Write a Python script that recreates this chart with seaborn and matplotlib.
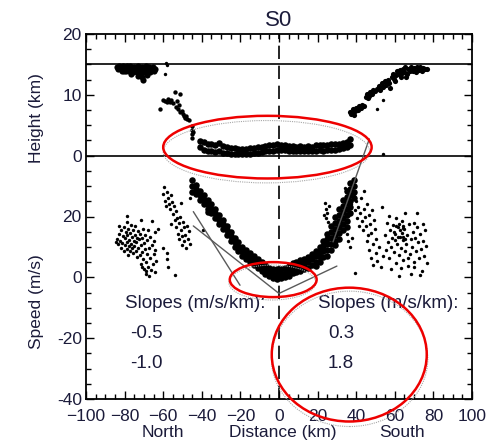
import matplotlib
matplotlib.use("Agg")
import matplotlib.pyplot as plt
from matplotlib.patches import Ellipse
from matplotlib.ticker import MultipleLocator
import pandas as pd
import seaborn as sns

# ---------------- data ----------------
# Cloud heights: (distance km, height km)
h_north = [(-84, 14.6), (-83.5, 14.2), (-83, 14.8), (-82, 14.5), (-81.5, 14.0), (-81, 14.7),
           (-80, 14.3), (-79.5, 13.9), (-79, 14.8), (-78, 14.4), (-77.5, 14.0), (-77, 14.7),
           (-76, 14.2), (-75.5, 13.8), (-75, 14.6), (-74, 14.3), (-73.5, 13.7), (-73, 14.8),
           (-72, 14.1), (-71.5, 13.6), (-71, 14.5), (-70, 14.2), (-69.5, 13.8), (-69, 14.7),
           (-68, 14.0), (-67.5, 14.5), (-67, 13.7), (-66, 14.3), (-65.5, 14.6), (-65, 13.9),
           (-64.5, 14.2), (-73, 13.1), (-71, 12.9), (-70.5, 12.5), (-72.5, 13.3), (-80.5, 14.0),
           (-76.5, 13.5), (-68.5, 13.3)]
h_left = [(-61.7, 7.7), (-60, 9.2), (-59, 9.0), (-58.2, 8.8), (-57.5, 9.3), (-56.5, 8.9),
          (-55.8, 9.1), (-55, 8.6), (-54, 10.4), (-53, 9.0), (-52, 8.4), (-51.3, 10.1),
          (-53.5, 8.0), (-52.5, 7.6), (-51.5, 7.2), (-50.5, 7.4), (-50, 6.9), (-49.3, 6.6),
          (-48.7, 6.2), (-48, 6.5), (-47.5, 6.0), (-46.8, 5.8), (-45.2, 4.9), (-45, 4.2),
          (-45.3, 3.5), (-45.1, 2.9), (-44.5, 3.9)]
h_right = [(37, 7.2), (37.5, 6.8), (38, 7.0), (38.5, 7.6), (39, 6.7), (39.5, 7.3), (40, 7.9),
           (41, 7.5), (41.5, 8.2), (42.5, 7.8), (43, 8.4), (44, 8.2), (45, 9.6), (45.5, 10.2),
           (46, 9.4), (46.5, 9.8), (47, 10.5), (48, 10.1), (48.5, 10.8), (49.5, 10.6),
           (51, 11.0), (52, 11.5), (52.5, 10.8), (53.5, 11.9), (54, 11.3), (55, 12.2),
           (55.5, 11.6), (56.5, 12.5), (57, 12.0), (57.5, 11.2), (58.5, 12.9), (59, 13.5),
           (59.5, 12.6), (60.5, 13.2), (61, 13.9), (62, 13.4), (62.5, 14.1), (63.5, 13.6),
           (64, 14.3), (65, 13.8), (65.5, 14.5), (66.5, 13.5), (67, 14.2), (68, 13.9),
           (68.5, 14.6), (69.5, 14.0), (70, 14.4), (71, 13.8), (71.5, 14.5), (72.5, 14.1),
           (73, 14.6), (74, 14.0), (74.5, 14.4), (75.5, 14.2), (76.5, 14.3), (60, 12.3),
           (63, 12.9), (66, 13.0)]
h_outliers = [(-58.2, 14.9), (-59, 13.4), (-58.5, 15.3), (53.8, 9.2), (51, 7.7), (54, 0.3)]

# Low-level cloud band: distance km -> (upper, lower) height km
hband_x = [-41, -39, -37, -35, -33, -31, -29, -27, -25, -23, -21, -19, -17, -15, -13, -11, -9,
           -7, -5, -3, -1, 1, 3, 5, 7, 9, 11, 13, 15, 17, 19, 21, 23, 25, 27, 29, 31, 33, 35, 37]
hband_h = [(2.4, 1.4), (2.2, 1.0), (2.0, 0.8), (1.9, 0.7), (1.8, 0.6), (2.1, 0.8), (1.6, 0.5),
           (1.4, 0.4), (1.3, 0.3), (1.2, 0.2), (1.1, 0.2), (1.1, 0.2), (1.1, 0.3), (1.2, 0.3),
           (1.3, 0.4), (1.4, 0.5), (1.5, 0.6), (1.6, 0.7), (1.7, 0.8), (1.7, 0.8), (1.9, 1.0),
           (1.8, 1.0), (1.7, 0.9), (1.6, 0.8), (1.6, 0.8), (1.5, 0.7), (1.6, 0.8), (1.5, 0.7),
           (1.6, 0.7), (1.5, 0.7), (1.7, 0.8), (1.8, 0.9), (1.7, 0.8), (1.8, 0.9), (1.9, 1.0),
           (1.9, 1.0), (2.0, 1.1), (2.1, 1.2), (2.3, 1.4), (2.7, 1.8)]

# Wind speed: (distance km, speed m/s)
v_north = [(-84, 12.5), (-83.5, 10.8), (-83, 14.2), (-82.5, 12.0), (-82, 9.5), (-82, 15.5),
           (-81.5, 11.3), (-81, 13.6), (-80.5, 8.6), (-80.5, 16.4), (-80, 10.5), (-80, 12.8),
           (-79.5, 14.8), (-79, 9.2), (-79, 18.2), (-78.5, 11.6), (-78.5, 13.9), (-78, 7.5),
           (-78, 16.0), (-77.5, 10.2), (-77.5, 12.4), (-77, 14.7), (-77, 8.8), (-76.5, 17.2),
           (-76.5, 11.0), (-76, 13.3), (-76, 9.6), (-75.5, 15.4), (-75.5, 7.9), (-75, 12.0),
           (-75, 10.3), (-74.5, 14.0), (-74.5, 16.8), (-74, 8.6), (-74, 11.5), (-73.5, 13.0),
           (-73.5, 6.8), (-73, 15.2), (-73, 9.8), (-72.5, 12.5), (-72, 7.4), (-72, 14.3),
           (-71.5, 10.7), (-71.5, 4.5), (-71, 12.9), (-71, 8.2), (-70.5, 6.0), (-70.5, 16.0),
           (-70, 11.3), (-70, 2.8), (-69.5, 9.2), (-69.5, 14.0), (-69, 5.0), (-69, 1.2),
           (-68.5, 12.2), (-68.5, 7.6), (-68, 3.5), (-68, 15.7), (-67.5, 9.8), (-67.5, 0.5),
           (-67, 6.3), (-67, 13.4), (-66.5, 2.4), (-66, 10.6), (-66, 18.5), (-65.5, 4.4),
           (-65, 7.8), (-65, 12.0), (-64.5, 1.6), (-64, 9.0), (-63.5, 5.5), (-78.9, 20.3),
           (-84.5, 11.5), (-82.8, 17.0), (-70.8, 3.5), (-68.8, 2.0), (-64.2, 14.8), (-71.3, 18.9)]
v_mid = [(-62.7, 16.0), (-60, 9.8), (-58, 8.0), (-58, 6.0), (-57.5, 3.3), (-60.2, 27.5),
         (-59.5, 29.8), (-59, 25.0), (-58.6, 23.3), (-58, 28.0), (-57.5, 26.0), (-57, 24.2),
         (-56.6, 22.4), (-56, 27.0), (-55.5, 24.8), (-55, 20.8), (-54.6, 23.5), (-54, 18.9),
         (-53.5, 21.8), (-53.2, 16.5), (-52.8, 19.6), (-52.3, 14.2), (-52, 17.8), (-51.6, 12.5),
         (-51.2, 20.0), (-50.8, 15.6), (-50.4, 10.5), (-50.2, 13.6), (-49.8, 18.2), (-49.4, 11.9),
         (-49, 16.4), (-48.5, 14.0), (-48.2, 9.8), (-47.7, 17.0), (-47.2, 12.6), (-46.6, 15.2),
         (-46.2, 10.8), (-53.9, 0.7), (-46, 26.0), (-39.4, 15.4), (-55.8, 17.6), (-51, 24.6)]
v_right = [(24, 24.5), (24.5, 22.5), (25, 21), (24.2, 19.5), (25.5, 18.3), (26, 23.5),
           (23.5, 20.5), (35, 14.4), (36, 12), (37, 10), (38, 13), (36.5, 26.5), (37.5, 24),
           (39, 27.5), (39.5, 22), (40, 25), (40.5, 19.5), (41, 23), (41.5, 17), (42, 21),
           (42.5, 26), (43, 18.5), (43.5, 15.5), (44, 22.5), (44.5, 19.8), (45, 16.8), (45.5, 24),
           (46, 13.8), (46.5, 20.5), (47, 17.5), (47.5, 14.5), (48, 22), (48.5, 11), (49, 18.8),
           (49.5, 15.8), (50, 12.6), (45.6, 12), (46.5, 9), (47.5, 6.5), (48.5, 4), (50, 8),
           (51, 5.5), (52, 10), (53, 3.3), (53.8, 7), (34.2, 29.5), (39.3, 1.3), (44, 28.5)]
v_south = [(53.2, 23), (65.2, 21), (71.3, 21), (55, 14), (55.5, 9), (56, 18), (56.5, 11.5),
           (57, 6.5), (57.5, 15.5), (58, 2.8), (58.5, 12.8), (59, 17.2), (59.5, 8.4), (60, 14.2),
           (60.5, 4.8), (61, 11), (61.5, 16.4), (62, 7.2), (62.5, 13.4), (63, 9.8), (63.5, 18.6),
           (64, 5.6), (64.5, 12.2), (65, 15.8), (65.5, 8.6), (66, 10.8), (66.5, 14), (67, 3.8),
           (67.5, 17.4), (68, 7.8), (68.5, 12.6), (69, 10), (69.5, 15), (70, 5.2), (70.5, 13),
           (71, 8.8), (71.5, 16.6), (72, 11.6), (72.5, 6.4), (73, 14.4), (73.5, 9.4), (74, 2.2),
           (74.5, 12), (75, 7), (75.5, 15.6), (76, 10.4), (76.5, 4.6), (62.2, 0.5), (68.3, 1.2),
           (72.8, 0.8), (60.8, 19.4), (58, 10), (64, 16.8), (66.8, 6.2), (70.2, 18), (74.8, 17.5),
           (57.2, 20.2), (63.3, 3), (69.7, 3.4), (59.5, 15), (60.5, 16.8), (61.5, 13.4),
           (62.5, 15.6), (63.5, 14.5), (64.5, 16.2), (65.5, 12.6), (60, 12.2), (62, 17.6), (64, 13.2)]

# Main speed band: distance km -> speeds m/s
vband_x = [-45, -43, -41, -39, -37, -35, -33, -31, -29, -27, -25, -23, -21, -19, -17, -15, -13,
           -11, -9, -7, -5, -3, -1, 1, 3, 5, 7, 9, 11, 13, 15, 17, 19, 21, 23, 25, 27, 29, 31,
           33, 35, 37, 39]
vband_v = [[32, 30, 28], [30.5, 29, 27.5], [28.5, 27, 25.5], [27, 25.5, 24],
           [25.5, 24, 22.5, 21.5], [24, 22.5, 21], [22.5, 21, 19.5], [20.5, 19, 17.5],
           [19, 17.5, 16], [17, 15.5, 14], [15, 13.5, 12], [13, 11.5, 10], [11.5, 10, 8.5],
           [10, 8.5, 7], [9, 7.5, 6], [8, 6.5, 5], [7, 5.5, 4], [6, 4.5, 3], [5, 3.5, 2],
           [4, 2.5, 1], [3.2, 1.8, 0.4], [2.8, 1.2, -0.2], [2.8, 1.2, -0.4], [2.6, 1.0, -0.2],
           [3.0, 1.5, 0], [3.8, 2.2, 0.6], [4.6, 3.0, 1.4], [5.0, 3.4, 1.8], [5.6, 4.0, 2.2],
           [6.0, 4.4, 2.8], [6.8, 5.0, 3.2], [7.6, 6.0, 4.2], [8.6, 7.0, 5.2, 3.6],
           [10, 8.3, 6.6, 5], [12, 10.3, 8.6, 6.8], [14.4, 12.6, 10.8, 9, 7],
           [17, 15, 13, 11, 9], [20, 18, 16, 14, 12, 10.5], [22.5, 20.5, 18.5, 16.5, 14.5, 12.5],
           [25.5, 23.5, 21.5, 19.5, 17.5, 15.5], [28.5, 26.5, 24.5, 22.5, 20.5, 18.5, 16.5],
           [31, 29, 27, 25, 23, 21], [32, 30, 28, 26]]

# Linear fits of speed against distance (m/s per km)
fit_slopes = [-0.5, -1.0, 0.3, 1.8]
fit_anchor = [(0, -5.3), (-20.2, -2.6), (0, -5.3), (46.8, 45.5)]
fit_xrange = [(-44.4, 0), (-44.4, -20.2), (0, 30), (28, 46.8)]

# ---------------- helpers ----------------
H0 = 40.0      # axis position of height 0 km
HSCALE = 2.0   # axis units per km of height


def height_df(points):
    df = pd.DataFrame(points, columns=["x", "h"])
    df["y"] = H0 + HSCALE * df["h"]
    return df


def speed_df(points):
    return pd.DataFrame(points, columns=["x", "y"])


hband_pts = [(x, h) for x, pair in zip(hband_x, hband_h) for h in pair]
vband_pts = [(x, v) for x, vs in zip(vband_x, vband_v) for v in vs]

# ---------------- figure ----------------
sns.set_style("ticks")
plt.rcParams["font.family"] = ["Liberation Sans", "DejaVu Sans"]
TXT = "#1b1b3a"

fig = plt.figure(figsize=(5.0, 4.41), dpi=100)
ax = fig.add_axes([86 / 500, 42 / 441, 386 / 500, 365 / 441])

groups = [
    (height_df(h_north), 20),
    (height_df(h_left), 10),
    (height_df(h_right), 14),
    (height_df(h_outliers), 6),
    (height_df(hband_pts), 22),
    (speed_df(v_north), 6),
    (speed_df(v_mid), 6),
    (speed_df(v_right), 6),
    (speed_df(v_south), 6),
    (speed_df(vband_pts), 22),
]
for df, size in groups:
    sns.scatterplot(data=df, x="x", y="y", ax=ax, color="black", s=size,
                    marker="o", linewidth=0, legend=False, zorder=3)

# reference lines
ax.axhline(H0 + HSCALE * 15, color="black", lw=1.2, zorder=2)
ax.axhline(H0, color="black", lw=1.2, zorder=2)
ax.axvline(0, color="black", lw=1.2, ls=(0, (8, 4)), zorder=2)

# fitted slopes
for s, (xa, ya), (x1, x2) in zip(fit_slopes, fit_anchor, fit_xrange):
    ax.plot([x1, x2], [ya + s * (x1 - xa), ya + s * (x2 - xa)],
            color="#5a5a5a", lw=1.0, zorder=4)

# slope annotations
ax.text(-79.8, -10.2, "Slopes (m/s/km):", fontsize=13.5, color=TXT, va="baseline")
ax.text(20.3, -10.2, "Slopes (m/s/km):", fontsize=13.5, color=TXT, va="baseline")
ax.text(-77.2, -20.0, f"{fit_slopes[0]:.1f}", fontsize=13.5, color=TXT, va="baseline")
ax.text(-77.2, -29.8, f"{fit_slopes[1]:.1f}", fontsize=13.5, color=TXT, va="baseline")
ax.text(25.4, -20.0, f"{fit_slopes[2]:.1f}", fontsize=13.5, color=TXT, va="baseline")
ax.text(25.4, -29.8, f"{fit_slopes[3]:.1f}", fontsize=13.5, color=TXT, va="baseline")

# highlight ellipses (with faint dotted halo)
for (cx, cy, w, h) in [(-6.5, 41.3, 107, 20.5), (-3.5, -1.7, 45, 11.5), (36.6, -26.8, 81, 44.5)]:
    ax.add_patch(Ellipse((cx, cy), w, h, fill=False, ec="#a8a8a8", lw=0.8,
                         ls=(0, (1, 1)), clip_on=False, zorder=5))
for (cx, cy, w, h) in [(-6, 42.8, 108, 20.6), (-3, -0.75, 45, 11.5), (36.4, -25.4, 80.3, 44)]:
    ax.add_patch(Ellipse((cx, cy), w, h, fill=False, ec="#ee0000", lw=1.8,
                         clip_on=False, zorder=6))

# axes
ax.set_xlim(-100, 100)
ax.set_ylim(-40, 80)
ax.set_xticks(range(-100, 101, 20))
ax.xaxis.set_minor_locator(MultipleLocator(5))
ax.set_yticks([-40, -20, 0, 20, 40, 60, 80])
ax.set_yticklabels(["-40", "-20", "0", "20", "0", "10", "20"])
ax.yaxis.set_minor_locator(MultipleLocator(5))
ax.tick_params(which="both", direction="in", top=True, right=True, width=1.0,
               labelsize=12.5, labelcolor=TXT, color="black")
ax.tick_params(which="major", length=6)
ax.tick_params(which="minor", length=3.5)
ax.tick_params(axis="x", pad=7)
ax.tick_params(axis="y", pad=3)
for sp in ax.spines.values():
    sp.set_linewidth(1.3)
    sp.set_color("black")
ax.set_xlabel("")
ax.set_ylabel("")

ax.set_title("S0", fontsize=16, color=TXT, pad=6)

xt = ax.get_xaxis_transform()
ax.text(-60, -0.093, "North", transform=xt, ha="center", va="center", fontsize=12.5, color=TXT)
ax.text(2, -0.093, "Distance (km)", transform=xt, ha="center", va="center", fontsize=12.5, color=TXT)
ax.text(63.7, -0.093, "South", transform=xt, ha="center", va="center", fontsize=12.5, color=TXT)

fig.text(36 / 500, 1 - 118 / 441, "Height (km)", rotation=90, ha="center", va="center",
         fontsize=12.5, color=TXT)
fig.text(36 / 500, 1 - 302 / 441, "Speed (m/s)", rotation=90, ha="center", va="center",
         fontsize=12.5, color=TXT)

fig.savefig("out.png", dpi=100)
